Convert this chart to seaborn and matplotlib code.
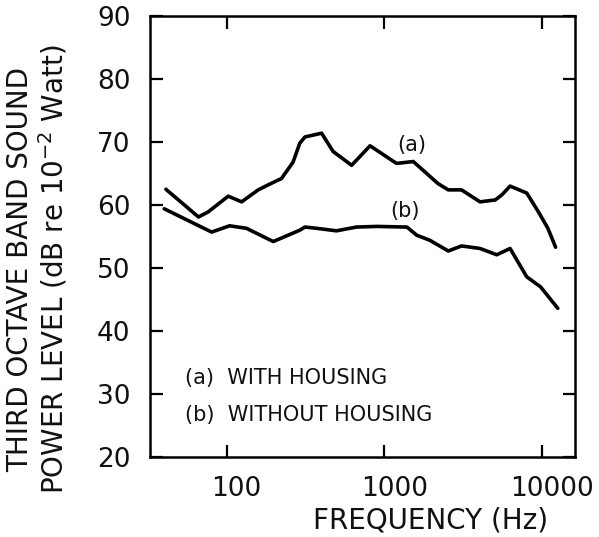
import numpy as np
import pandas as pd
import matplotlib
matplotlib.use("Agg")
import matplotlib.pyplot as plt
import matplotlib.transforms as mtransforms
import seaborn as sns

# curve (a): with housing
freq_a = [41, 66, 76, 102, 124, 158, 183, 222, 263, 290, 313, 399, 472, 619, 810,
          1193, 1524, 2187, 2541, 3086, 4043, 5046, 5560, 6272, 8003, 9497, 10900, 12200]
level_a = [62.5, 58.1, 58.9, 61.4, 60.5, 62.4, 63.2, 64.2, 66.8, 69.8, 70.8, 71.4, 68.5, 66.3, 69.4,
           66.6, 66.9, 63.4, 62.4, 62.4, 60.5, 60.8, 61.6, 63.0, 61.9, 58.9, 56.3, 53.3]

# curve (b): without housing
freq_b = [40, 80, 104, 133, 197, 290, 313, 371, 496, 664, 894, 1389, 1603, 1942,
          2541, 3086, 4043, 5160, 6272, 8003, 9800, 12600]
level_b = [59.4, 55.7, 56.7, 56.3, 54.2, 56.0, 56.5, 56.3, 55.9, 56.5, 56.6, 56.5, 55.2, 54.4,
           52.7, 53.5, 53.1, 52.1, 53.1, 48.6, 47.0, 43.6]

x_ticks = [100, 1000, 10000]
x_ticklabels = ["100", "1000", "10000"]
y_ticks = [20, 30, 40, 50, 60, 70, 80, 90]

df_a = pd.DataFrame({"Frequency": freq_a, "Level": level_a})
df_b = pd.DataFrame({"Frequency": freq_b, "Level": level_b})

sns.set_theme(style="ticks")
plt.rcParams["font.family"] = ["DejaVu Sans"]

fig = plt.figure(figsize=(5.99, 5.37), dpi=100)
ax = fig.add_axes([150 / 599, 1 - 457 / 537, 425 / 599, 441 / 537])

sns.lineplot(data=df_a, x="Frequency", y="Level", color="black", lw=2.6, ax=ax)
sns.lineplot(data=df_b, x="Frequency", y="Level", color="black", lw=2.6, ax=ax)

ax.set_xscale("log")
ax.set_xlim(32.5, 16200)
ax.set_ylim(20, 90)
ax.set_xticks(x_ticks)
ax.set_xticklabels(x_ticklabels)
ax.set_yticks(y_ticks)
ax.minorticks_off()
ax.tick_params(axis="both", which="major", direction="in", length=9, width=1.6,
               labelsize=19, pad=14, color="black", labelcolor="#111111",
               top=True, right=True)
# the lettered labels sit slightly right of their ticks in the original
shift = mtransforms.ScaledTranslation(7 / 72, 0, fig.dpi_scale_trans)
for lbl in ax.get_xticklabels():
    lbl.set_transform(lbl.get_transform() + shift)
for s in ax.spines.values():
    s.set_linewidth(1.8)
    s.set_color("black")

ax.set_xlabel("FREQUENCY (Hz)", fontsize=20, color="#111111")
ax.xaxis.set_label_coords(0.66, -0.112)
ax.set_ylabel("THIRD OCTAVE BAND SOUND\nPOWER LEVEL (dB re 10$^{-2}$ Watt)",
              fontsize=20, color="#111111", linespacing=1.1)
ax.yaxis.set_label_coords(-0.19, 0.425)

ax.text(1495, 69.5, "(a)", fontsize=15, ha="center", va="center", color="#111111")
ax.text(1350, 59.0, "(b)", fontsize=15, ha="center", va="center", color="#111111")
ax.text(54, 32.5, "(a)  WITH HOUSING", fontsize=15, ha="left", va="center", color="#111111")
ax.text(54, 26.7, "(b)  WITHOUT HOUSING", fontsize=15, ha="left", va="center", color="#111111")

fig.savefig("out.png", dpi=100, facecolor="white")
